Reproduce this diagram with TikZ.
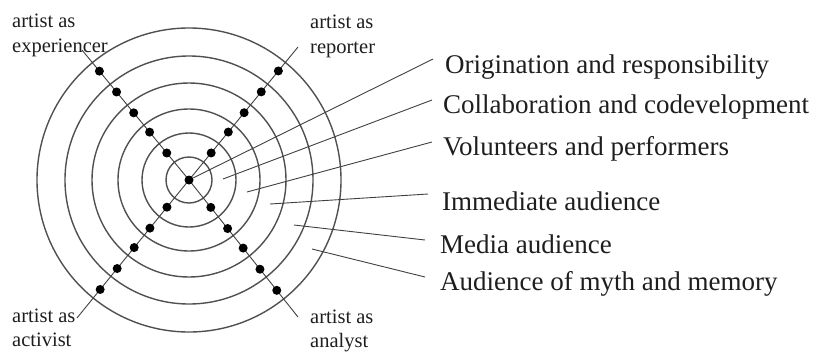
\documentclass[tikz,border=0pt]{standalone}
\usepackage{fontspec}
\setmainfont{Liberation Serif}
\usetikzlibrary{calc}
\definecolor{ink}{HTML}{1E1E1E}
\definecolor{ring}{HTML}{505050}
\definecolor{wire}{HTML}{404040}
\begin{document}
\begin{tikzpicture}[x=1pt,y=-1pt,
  ringline/.style={draw=ring,line width=1.4pt},
  wireline/.style={draw=wire,line width=0.9pt},
  dot/.style={circle,fill=black,inner sep=0pt,minimum size=9pt},
  biglabel/.style={anchor=base west,inner sep=0pt,text=ink,font=\fontsize{27}{32}\selectfont},
  smalllabel/.style={anchor=base west,inner sep=0pt,text=ink,font=\fontsize{20.5}{25}\selectfont}]
\useasboundingbox (0,0) rectangle (818,351);

% concentric rings
\coordinate (c) at (189,180);
\foreach \r in {23,47,71,97,124,152}
  \draw[ringline] (c) circle[radius=\r];

% ends of the two diagonals
\coordinate (tl) at (82,50);
\coordinate (tr) at (298,47);
\coordinate (bl) at (77,318);
\coordinate (br) at (298,317);
\draw[wireline] (tl) -- (c) -- (br);
\draw[wireline] (tr) -- (c) -- (bl);

% dots on the diagonals, one per ring
\node[dot] (d0) at (c) {};
\foreach \e in {tl,tr,bl,br}
  \foreach \d [count=\i] in {35,62,87,114,141}
    \node[dot] (\e\i) at ($(c)!\d pt!(\e)$) {};

% role labels
\node[smalllabel] (expa) at (12,27) {artist as};
\node[smalllabel] (expb) at (12,52) {experiencer};
\node[smalllabel] (repa) at (310,28) {artist as};
\node[smalllabel] (repb) at (310,53) {reporter};
\node[smalllabel] (acta) at (12,322) {artist as};
\node[smalllabel] (actb) at (12,346) {activist};
\node[smalllabel] (anaa) at (310,323) {artist as};
\node[smalllabel] (anab) at (310,347) {analyst};

% ring labels
\node[biglabel] (l1) at (445,73) {Origination and responsibility};
\node[biglabel] (l2) at (443,113) {Collaboration and codevelopment};
\node[biglabel] (l3) at (443,155) {Volunteers and performers};
\node[biglabel] (l4) at (442,210) {Immediate audience};
\node[biglabel] (l5) at (440,253) {Media audience};
\node[biglabel] (l6) at (440,290) {Audience of myth and memory};

% leader lines from each ring to its label
\coordinate (s2) at (223,179);
\coordinate (s3) at (247,192);
\coordinate (s4) at (270,204);
\coordinate (s5) at (294,225);
\coordinate (s6) at (312,249);
\coordinate (e1) at (433,59);
\coordinate (e2) at (432,100);
\coordinate (e3) at (432,142);
\coordinate (e4) at (428,194);
\coordinate (e5) at (425,240);
\coordinate (e6) at (425,277);
\draw[wireline] (d0) -- (e1);
\foreach \k in {2,...,6}
  \draw[wireline] (s\k) -- (e\k);
\end{tikzpicture}
\end{document}
